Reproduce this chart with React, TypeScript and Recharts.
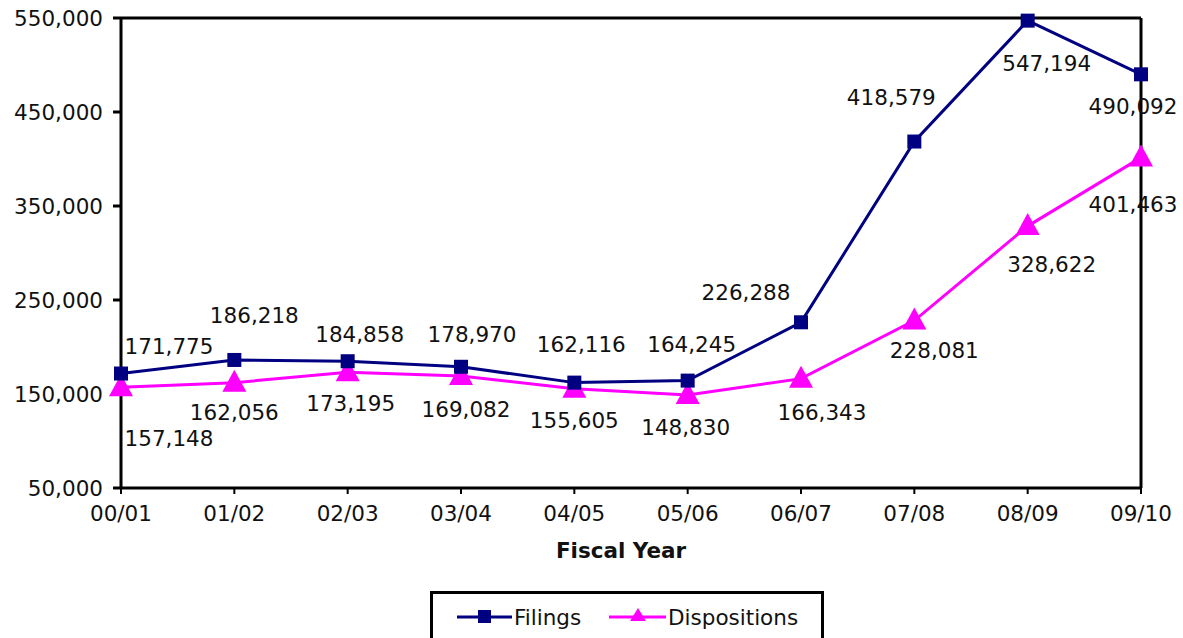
import { LineChart, Line, XAxis, YAxis, ReferenceLine } from 'recharts'

const FISCAL_YEARS = ['00/01', '01/02', '02/03', '03/04', '04/05', '05/06', '06/07', '07/08', '08/09', '09/10']
const FILINGS = [171775, 186218, 184858, 178970, 162116, 164245, 226288, 418579, 547194, 490092]
const DISPOSITIONS = [157148, 162056, 173195, 169082, 155605, 148830, 166343, 228081, 328622, 401463]
const Y_TICKS = [50000, 150000, 250000, 350000, 450000, 550000]

// where the original put each value label, relative to its point
const FILING_LABEL_OFFSETS: [number, number][] = [
  [48, -27], [20, -44], [12, -27], [11, -32], [7, -38],
  [4, -36], [-55, -30], [-23, -44], [19, 43], [-8, 32],
]
const DISPOSITION_LABEL_OFFSETS: [number, number][] = [
  [48, 51], [0, 30], [3, 31], [5, 33], [0, 32],
  [-2, 32], [21, 34], [20, 30], [24, 38], [-8, 47],
]

const NAVY = '#000080'
const MAGENTA = '#ff00ff'
const FONT = '"DejaVu Sans", Verdana, sans-serif'
const FONT_SIZE = 21.5

const chartData = FISCAL_YEARS.map((year, i) => ({
  year,
  filings: FILINGS[i],
  dispositions: DISPOSITIONS[i],
}))

const fmt = (v: number) => v.toLocaleString('en-US')

function SquareDot(props: any) {
  const { cx, cy } = props
  if (cx == null || cy == null) return null
  return <rect x={cx - 7} y={cy - 7} width={14} height={14} fill={NAVY} />
}

function TriangleDot(props: any) {
  const { cx, cy } = props
  if (cx == null || cy == null) return null
  return <polygon points={`${cx},${cy - 13} ${cx + 12},${cy + 9} ${cx - 12},${cy + 9}`} fill={MAGENTA} />
}

function makeLabel(offsets: [number, number][]) {
  return (props: any) => {
    const { x, y, value, index } = props
    const [dx, dy] = offsets[index] ?? [0, 0]
    return (
      <text
        x={x + dx}
        y={y + dy}
        textAnchor="middle"
        dominantBaseline="central"
        fontSize={FONT_SIZE}
        fontFamily={FONT}
        fill="#111"
      >
        {fmt(value)}
      </text>
    )
  }
}

function LegendBox() {
  return (
    <div
      style={{
        position: 'absolute',
        left: 430,
        top: 591,
        width: 388,
        height: 60,
        border: '3px solid #000',
        background: '#fff',
        fontFamily: FONT,
        fontSize: FONT_SIZE,
        color: '#111',
        lineHeight: 1,
      }}
    >
      <svg width={60} height={30} style={{ position: 'absolute', left: 22, top: 8 }}>
        <line x1={2} y1={15} x2={57} y2={15} stroke={NAVY} strokeWidth={3} />
        <rect x={23} y={8} width={13} height={13} fill={NAVY} />
      </svg>
      <span style={{ position: 'absolute', left: 81, top: 13 }}>Filings</span>
      <svg width={62} height={30} style={{ position: 'absolute', left: 174, top: 8 }}>
        <line x1={2} y1={15} x2={59} y2={15} stroke={MAGENTA} strokeWidth={3} />
        <polygon points="31,6 39,19 23,19" fill={MAGENTA} />
      </svg>
      <span style={{ position: 'absolute', left: 235, top: 13 }}>Dispositions</span>
    </div>
  )
}

export default function App() {
  const tickStyle = { fill: '#111', fontSize: FONT_SIZE, fontFamily: FONT }
  return (
    <div
      style={{
        position: 'absolute',
        left: 0,
        top: 0,
        width: 1183,
        height: 638,
        overflow: 'hidden',
        background: '#fff',
      }}
    >
      <LineChart width={1183} height={638} data={chartData} margin={{ top: 18, right: 42, left: 21, bottom: 0 }}>
        <XAxis
          dataKey="year"
          height={150}
          tick={tickStyle}
          tickSize={6}
          tickMargin={12}
          axisLine={{ stroke: '#000', strokeWidth: 3 }}
          tickLine={{ stroke: '#000', strokeWidth: 2 }}
          label={{
            value: 'Fiscal Year',
            position: 'insideTop',
            offset: 55,
            dx: -10,
            style: { fill: '#111', fontSize: FONT_SIZE, fontWeight: 'bold', fontFamily: FONT },
          }}
        />
        <YAxis
          width={100}
          domain={[50000, 550000]}
          ticks={Y_TICKS}
          tickFormatter={fmt}
          tick={tickStyle}
          tickSize={8}
          tickMargin={10}
          axisLine={{ stroke: '#000', strokeWidth: 3 }}
          tickLine={{ stroke: '#000', strokeWidth: 3 }}
        />
        <ReferenceLine y={550000} stroke="#000" strokeWidth={3} />
        <ReferenceLine x="09/10" stroke="#000" strokeWidth={3} />
        <Line
          dataKey="dispositions"
          stroke={MAGENTA}
          strokeWidth={3}
          dot={<TriangleDot />}
          label={makeLabel(DISPOSITION_LABEL_OFFSETS)}
          isAnimationActive={false}
        />
        <Line
          dataKey="filings"
          stroke={NAVY}
          strokeWidth={3}
          dot={<SquareDot />}
          label={makeLabel(FILING_LABEL_OFFSETS)}
          isAnimationActive={false}
        />
      </LineChart>
      <LegendBox />
    </div>
  )
}
